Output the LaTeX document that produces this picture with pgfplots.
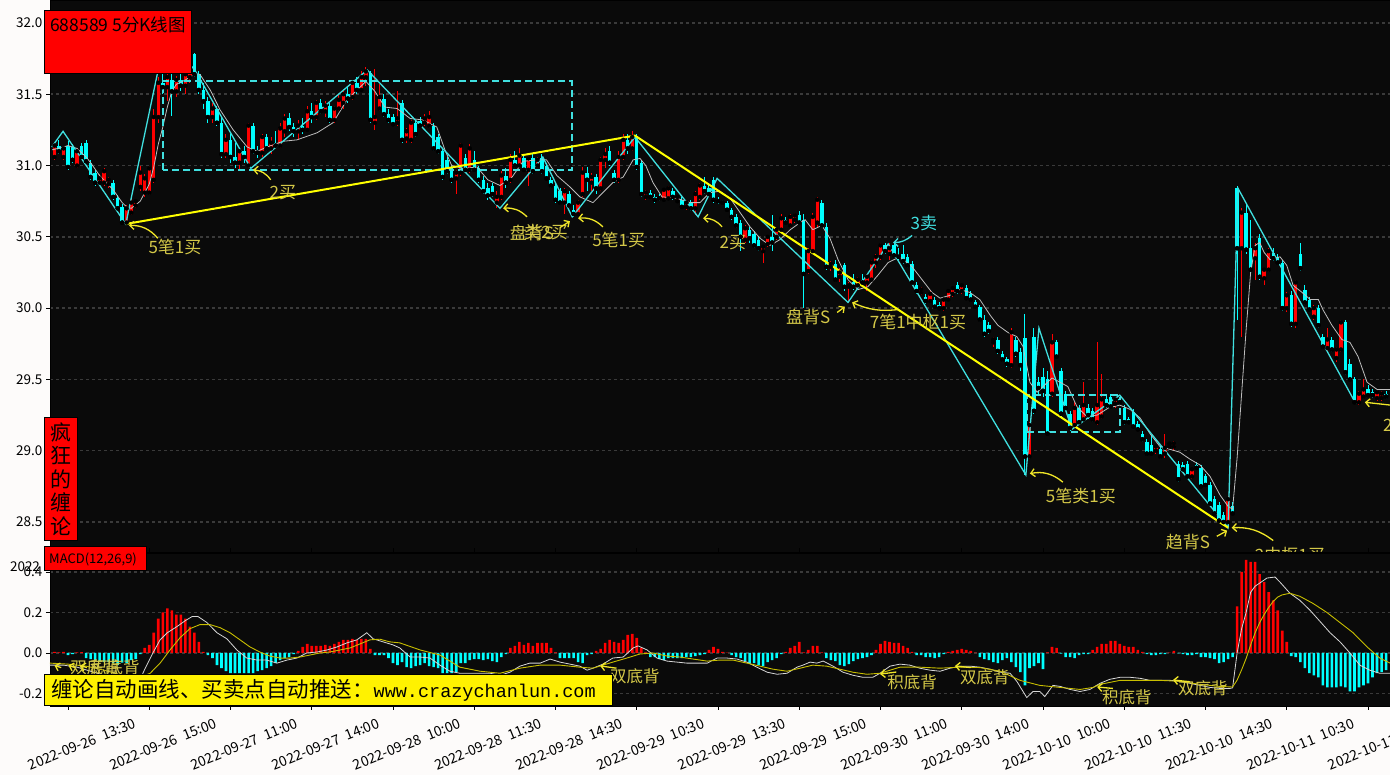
\documentclass[border=0pt]{standalone}
\usepackage{fontspec}
\setmainfont{Noto Sans CJK SC}
\newfontfamily\monof{Liberation Mono}
\usepackage{pgfplots}
\pgfplotsset{compat=1.18}
\usepackage{pgfplotstable}
\usetikzlibrary{arrows.meta}

\definecolor{bgk}{RGB}{10,10,10}
\definecolor{pagebg}{RGB}{253,251,250}
\definecolor{cred}{RGB}{255,0,0}
\definecolor{ccyan}{RGB}{0,255,255}
\definecolor{zz}{RGB}{64,224,224}
\definecolor{seg}{RGB}{255,255,0}
\definecolor{gridc}{RGB}{58,58,58}
\definecolor{mac}{RGB}{190,190,190}
\definecolor{difc}{RGB}{215,215,215}
\definecolor{deac}{RGB}{200,190,0}
\definecolor{labc}{RGB}{212,200,72}
\definecolor{arrc}{RGB}{240,230,40}

\newcommand\tickfont{\fontsize{13.5pt}{15pt}\selectfont}
\newcommand\xtickfont{\fontsize{14pt}{16pt}\selectfont}
\tikzset{
  lab/.style={text=labc, font=\fontsize{17pt}{19pt}\selectfont, inner sep=0pt},
  mlab/.style={text=labc, font=\fontsize{16.5pt}{18pt}\selectfont, inner sep=0pt},
  ann/.style={arrc, line width=1.3pt, -{Straight Barb[length=4pt,width=8pt]}},
  cann/.style={zz, line width=1.3pt, -{Straight Barb[length=4pt,width=8pt]}},
}

\pgfplotstableread{
i o h l c
-3 31.06 31.16 31.04 31.14
-2 31.14 31.18 31.08 31.10
-1 31.06 31.14 31.04 31.12
0 31.14 31.17 30.97 30.99
1 31.13 31.15 31.02 31.04
2 31.00 31.12 30.98 31.10
3 31.14 31.16 31.05 31.06
4 31.16 31.18 31.02 31.03
5 31.02 31.04 30.90 30.92
6 30.95 30.97 30.86 30.88
7 30.88 30.94 30.86 30.91
8 30.88 30.98 30.86 30.96
9 30.87 30.92 30.84 30.90
10 30.88 30.90 30.76 30.78
11 30.77 30.79 30.68 30.70
12 30.71 30.73 30.59 30.60
13 30.60 30.72 30.59 30.70
14 30.67 30.78 30.65 30.74
15 30.72 30.76 30.70 30.75
16 30.85 31.00 30.82 30.95
17 30.81 30.94 30.78 30.91
18 30.81 31.00 30.79 30.98
19 30.90 31.40 30.88 31.34
20 31.34 31.62 31.30 31.58
21 31.58 31.86 31.50 31.55
22 31.55 31.66 31.45 31.62
23 31.60 31.68 31.35 31.52
24 31.52 31.63 31.48 31.60
25 31.60 31.66 31.52 31.56
26 31.56 31.66 31.50 31.64
27 31.62 31.70 31.58 31.66
28 31.78 31.79 31.62 31.64
29 31.64 31.66 31.50 31.53
30 31.53 31.58 31.40 31.45
31 31.45 31.48 31.30 31.34
32 31.34 31.44 31.30 31.40
33 31.40 31.42 31.28 31.30
34 31.30 31.34 31.05 31.08
35 31.08 31.22 31.05 31.18
36 31.18 31.22 31.02 31.06
37 31.06 31.16 30.98 31.02
38 31.02 31.12 30.97 31.10
39 31.10 31.14 31.02 31.06
40 31.00 31.30 30.98 31.28
41 31.28 31.30 31.08 31.10
42 31.10 31.14 31.05 31.09
43 31.09 31.22 31.06 31.20
44 31.20 31.22 31.10 31.12
45 31.12 31.20 31.08 31.16
46 31.16 31.24 31.12 31.14
47 31.14 31.30 31.12 31.26
48 31.24 31.36 31.20 31.33
49 31.33 31.37 31.24 31.27
50 31.27 31.30 31.20 31.24
51 31.24 31.32 31.18 31.28
52 31.28 31.33 31.22 31.25
53 31.25 31.42 31.24 31.38
54 31.38 31.44 31.30 31.34
55 31.34 31.46 31.32 31.44
56 31.44 31.47 31.36 31.38
57 31.38 31.45 31.34 31.42
58 31.42 31.44 31.30 31.32
59 31.32 31.42 31.30 31.40
60 31.40 31.50 31.38 31.46
61 31.44 31.52 31.40 31.50
62 31.50 31.56 31.44 31.47
63 31.48 31.60 31.46 31.58
64 31.58 31.62 31.50 31.53
65 31.53 31.66 31.52 31.62
66 31.62 31.69 31.56 31.66
67 31.65 31.66 31.30 31.32
68 31.30 31.68 31.25 31.34
69 31.40 31.57 31.38 31.48
70 31.47 31.50 31.34 31.36
71 31.36 31.40 31.30 31.32
72 31.34 31.36 31.28 31.29
73 31.30 31.52 31.28 31.33
74 31.44 31.46 31.16 31.18
75 31.19 31.26 31.16 31.24
76 31.18 31.32 31.16 31.30
77 31.30 31.32 31.20 31.22
78 31.31 31.34 31.26 31.28
79 31.30 31.36 31.28 31.33
80 31.28 31.38 31.26 31.34
81 31.28 31.30 31.10 31.12
82 31.20 31.22 31.08 31.10
83 31.10 31.12 30.90 30.92
84 31.04 31.06 30.94 30.96
85 30.98 31.00 30.88 30.90
86 30.91 30.97 30.80 30.95
87 30.95 31.16 30.93 31.14
88 31.05 31.08 30.96 30.97
89 30.97 31.15 30.95 31.12
90 31.04 31.10 30.96 30.97
91 30.98 31.00 30.88 30.90
92 30.90 30.93 30.80 30.82
93 30.84 30.88 30.76 30.79
94 30.86 30.88 30.78 30.80
95 30.74 30.82 30.70 30.78
96 30.78 30.96 30.76 30.93
97 30.93 30.98 30.84 30.88
98 30.90 31.08 30.88 31.04
99 31.04 31.10 30.98 31.00
100 31.00 31.12 30.98 31.07
101 31.05 31.08 30.96 30.97
102 30.97 31.07 30.86 31.05
103 31.05 31.08 30.94 30.96
104 31.00 31.06 30.98 31.04
105 31.05 31.08 30.94 30.96
106 31.00 31.02 30.90 30.91
107 30.90 30.92 30.84 30.86
108 30.86 30.88 30.74 30.76
109 30.82 30.84 30.72 30.74
110 30.74 30.84 30.66 30.82
111 30.80 30.82 30.70 30.72
112 30.69 30.72 30.64 30.66
113 30.66 30.76 30.65 30.74
114 30.80 30.99 30.78 30.95
115 30.95 30.99 30.82 30.90
116 30.88 30.95 30.82 30.92
117 30.92 30.94 30.80 30.84
118 30.84 31.06 30.82 31.04
119 31.04 31.12 30.98 31.08
120 31.10 31.14 31.00 31.02
121 30.95 30.97 30.88 30.90
122 30.90 31.10 30.88 31.06
123 31.06 31.22 31.04 31.18
124 31.18 31.22 31.08 31.12
125 31.12 31.24 31.10 31.20
126 31.20 31.22 30.97 30.99
127 31.02 31.04 30.78 30.80
128 30.78 30.83 30.76 30.81
129 30.81 30.83 30.77 30.78
130 30.78 30.80 30.74 30.76
131 30.78 30.80 30.75 30.77
132 30.76 30.84 30.75 30.83
133 30.77 30.86 30.76 30.84
134 30.82 30.84 30.76 30.78
135 30.75 30.79 30.74 30.78
136 30.76 30.78 30.70 30.71
137 30.71 30.76 30.69 30.74
138 30.74 30.76 30.68 30.70
139 30.70 30.82 30.65 30.80
140 30.78 30.88 30.76 30.86
141 30.86 30.92 30.80 30.82
142 30.84 30.88 30.78 30.80
143 30.90 30.92 30.74 30.76
144 30.76 30.78 30.73 30.75
145 30.75 30.76 30.72 30.74
146 30.74 30.75 30.68 30.69
147 30.69 30.70 30.62 30.64
148 30.64 30.66 30.56 30.58
149 30.60 30.62 30.40 30.50
150 30.48 30.58 30.46 30.56
151 30.55 30.57 30.46 30.49
152 30.52 30.54 30.42 30.44
153 30.48 30.50 30.40 30.42
154 30.40 30.44 30.32 30.43
155 30.45 30.51 30.43 30.50
156 30.50 30.65 30.40 30.46
157 30.50 30.56 30.48 30.55
158 30.55 30.66 30.53 30.63
159 30.62 30.64 30.59 30.60
160 30.58 30.66 30.56 30.64
161 30.62 30.67 30.60 30.65
162 30.65 30.68 30.58 30.60
163 30.62 30.66 30.00 30.24
164 30.26 30.42 30.24 30.40
165 30.40 30.67 30.38 30.64
166 30.60 30.78 30.56 30.76
167 30.74 30.76 30.56 30.58
168 30.57 30.60 30.27 30.29
169 30.29 30.33 30.26 30.31
170 30.31 30.34 30.18 30.20
171 30.22 30.28 30.18 30.25
172 30.30 30.32 30.12 30.15
173 30.15 30.18 30.04 30.16
174 30.18 30.24 30.13 30.15
175 30.16 30.22 30.14 30.20
176 30.20 30.24 30.16 30.18
177 30.18 30.24 30.12 30.22
178 30.20 30.34 30.19 30.32
179 30.32 30.38 30.28 30.36
180 30.36 30.46 30.34 30.44
181 30.44 30.46 30.38 30.40
182 30.38 30.46 30.34 30.42
183 30.44 30.46 30.35 30.37
184 30.37 30.42 30.34 30.36
185 30.38 30.44 30.31 30.33
186 30.36 30.38 30.28 30.30
187 30.31 30.33 30.16 30.18
188 30.16 30.18 30.10 30.12
189 30.11 30.15 30.09 30.13
190 30.08 30.10 30.03 30.05
191 30.05 30.12 30.04 30.10
192 30.06 30.08 30.00 30.01
193 30.02 30.04 29.99 30.00
194 30.00 30.07 29.98 30.06
195 30.06 30.13 30.05 30.12
196 30.10 30.15 30.08 30.14
197 30.16 30.18 30.10 30.12
198 30.12 30.17 30.10 30.16
199 30.14 30.16 30.06 30.07
200 30.10 30.12 30.04 30.06
201 30.04 30.06 30.00 30.01
202 30.01 30.02 29.90 29.92
203 29.92 29.95 29.80 29.82
204 29.88 29.90 29.82 29.84
205 29.76 29.80 29.73 29.78
206 29.78 29.80 29.68 29.70
207 29.68 29.70 29.62 29.64
208 29.64 29.66 29.59 29.61
209 29.60 29.86 29.58 29.83
210 29.78 29.80 29.66 29.68
211 29.69 29.72 29.56 29.60
212 29.79 29.96 28.83 28.96
213 28.96 29.20 28.94 29.18
214 29.80 29.86 29.26 29.28
215 29.48 29.52 29.40 29.44
216 29.52 29.58 29.38 29.42
217 29.50 29.56 29.10 29.12
218 29.40 29.82 29.38 29.76
219 29.76 29.78 29.64 29.66
220 29.56 29.58 29.24 29.26
221 29.40 29.42 29.28 29.30
222 29.26 29.28 29.14 29.16
223 29.18 29.34 29.16 29.30
224 29.30 29.32 29.18 29.20
225 29.22 29.48 29.20 29.32
226 29.30 29.33 29.22 29.25
227 29.28 29.30 29.20 29.22
228 29.20 29.76 29.18 29.32
229 29.24 29.54 29.22 29.36
230 29.36 29.40 29.30 29.32
231 29.38 29.40 29.30 29.31
232 29.33 29.38 29.30 29.36
233 29.36 29.38 29.32 29.34
234 29.30 29.32 29.18 29.20
235 29.22 29.24 29.19 29.20
236 29.27 29.29 29.16 29.17
237 29.19 29.21 29.14 29.15
238 29.12 29.14 29.06 29.08
239 29.06 29.08 28.96 28.98
240 29.04 29.10 28.97 28.98
241 29.00 29.04 28.98 29.03
242 29.01 29.03 28.94 28.96
243 28.98 29.12 28.95 29.02
244 29.03 29.06 29.01 29.05
245 29.03 29.07 29.00 29.05
246 28.91 28.93 28.78 28.80
247 28.90 28.92 28.86 28.87
248 28.91 28.93 28.80 28.82
249 28.82 28.88 28.80 28.87
250 28.90 28.92 28.87 28.88
251 28.88 28.90 28.74 28.75
252 28.82 28.84 28.75 28.76
253 28.76 28.78 28.62 28.63
254 28.66 28.68 28.55 28.56
255 28.62 28.64 28.50 28.51
256 28.55 28.57 28.48 28.50
257 28.50 28.68 28.46 28.66
258 28.61 28.64 28.55 28.56
259 30.84 30.86 29.92 30.42
260 30.42 30.70 29.80 30.67
261 30.67 30.74 30.38 30.41
262 30.42 30.62 30.24 30.27
263 30.35 30.46 30.20 30.42
264 30.49 30.52 30.20 30.22
265 30.21 30.28 30.16 30.27
266 30.27 30.42 30.25 30.40
267 30.39 30.42 30.33 30.35
268 30.36 30.38 30.30 30.32
269 30.32 30.34 29.98 30.00
270 30.00 30.11 29.97 30.09
271 30.09 30.12 29.87 29.89
272 29.89 30.20 29.86 30.18
273 30.38 30.46 30.26 30.28
274 30.13 30.16 30.02 30.04
275 30.06 30.08 29.97 29.99
276 29.94 30.02 29.92 30.00
277 30.00 30.02 29.86 29.88
278 29.80 29.82 29.71 29.73
279 29.72 29.86 29.70 29.78
280 29.78 29.80 29.69 29.71
281 29.65 29.73 29.62 29.71
282 29.71 29.92 29.69 29.90
283 29.90 29.92 29.53 29.55
284 29.61 29.64 29.49 29.50
285 29.50 29.52 29.33 29.34
286 29.34 29.42 29.32 29.40
287 29.38 29.50 29.36 29.43
288 29.43 29.46 29.38 29.39
289 29.41 29.43 29.37 29.39
290 29.37 29.43 29.35 29.41
291 29.37 29.42 29.35 29.40
292 29.40 29.42 29.36 29.38
}\candles

\pgfplotstableread[row sep=\\]{
i v\\
-3 0.005\\ -2 0.003\\ -1 0.005\\ 0 -0.01\\ 1 -0.005\\ 2 0.003\\ 3 0.004\\ 4 -0.025\\ 5 -0.03\\ 6 -0.035\\
7 -0.04\\ 8 -0.045\\ 9 -0.045\\ 10 -0.05\\ 11 -0.06\\ 12 -0.048\\ 13 -0.05\\ 14 -0.035\\ 15 -0.03\\ 16 -0.005\\
17 0.025\\ 18 0.04\\ 19 0.10\\ 20 0.17\\ 21 0.20\\ 22 0.22\\ 23 0.21\\ 24 0.19\\ 25 0.19\\ 26 0.17\\
27 0.13\\ 28 0.10\\ 29 0.055\\ 30 0.005\\ 31 -0.01\\ 32 -0.025\\ 33 -0.06\\ 34 -0.075\\ 35 -0.09\\ 36 -0.10\\
37 -0.10\\ 38 -0.10\\ 39 -0.10\\ 40 -0.10\\ 41 -0.10\\ 42 -0.09\\ 43 -0.085\\ 44 -0.075\\ 45 -0.065\\ 46 -0.05\\
47 -0.035\\ 48 -0.025\\ 49 -0.02\\ 50 -0.005\\ 51 0.01\\ 52 0.03\\ 53 0.045\\ 54 0.035\\ 55 0.035\\ 56 0.035\\
57 0.04\\ 58 0.035\\ 59 0.045\\ 60 0.055\\ 61 0.065\\ 62 0.065\\ 63 0.07\\ 64 0.065\\ 65 0.07\\ 66 0.07\\
67 0.02\\ 68 -0.01\\ 69 -0.01\\ 70 -0.01\\ 71 -0.025\\ 72 -0.05\\ 73 -0.06\\ 74 -0.045\\ 75 -0.07\\ 76 -0.075\\
77 -0.065\\ 78 -0.06\\ 79 -0.05\\ 80 -0.065\\ 81 -0.07\\ 82 -0.075\\ 83 -0.10\\ 84 -0.10\\ 85 -0.10\\ 86 -0.095\\
87 -0.05\\ 88 -0.05\\ 89 -0.035\\ 90 -0.03\\ 91 -0.03\\ 92 -0.035\\ 93 -0.03\\ 94 -0.04\\ 95 -0.045\\ 96 -0.02\\
97 -0.005\\ 98 0.025\\ 99 0.035\\ 100 0.055\\ 101 0.04\\ 102 0.05\\ 103 0.035\\ 104 0.05\\ 105 0.05\\ 106 0.05\\
107 0.025\\ 108 0.003\\ 109 -0.025\\ 110 -0.025\\ 111 -0.025\\ 112 -0.025\\ 113 -0.045\\ 114 -0.05\\ 115 -0.01\\ 116 -0.005\\
117 0.01\\ 118 0.02\\ 119 0.05\\ 120 0.065\\ 121 0.055\\ 122 0.05\\ 123 0.065\\ 124 0.09\\ 125 0.095\\ 126 0.075\\
127 0.025\\ 128 0.003\\ 129 -0.02\\ 130 -0.02\\ 131 -0.03\\ 132 -0.035\\ 133 -0.025\\ 134 -0.025\\ 135 -0.025\\ 136 -0.025\\
137 -0.02\\ 138 -0.02\\ 139 -0.015\\ 140 -0.01\\ 141 -0.005\\ 142 0.015\\ 143 0.03\\ 144 0.02\\ 145 0.005\\ 146 0.002\\
147 -0.01\\ 148 -0.02\\ 149 -0.025\\ 150 -0.04\\ 151 -0.05\\ 152 -0.05\\ 153 -0.06\\ 154 -0.065\\ 155 -0.045\\ 156 -0.035\\
157 -0.025\\ 158 -0.005\\ 159 0.005\\ 160 0.025\\ 161 0.035\\ 162 0.055\\ 163 0.003\\ 164 0.015\\ 165 0.035\\ 166 0.035\\
167 0.003\\ 168 -0.025\\ 169 -0.035\\ 170 -0.04\\ 171 -0.06\\ 172 -0.065\\ 173 -0.055\\ 174 -0.04\\ 175 -0.03\\ 176 -0.025\\
177 -0.02\\ 178 -0.01\\ 179 0.015\\ 180 0.045\\ 181 0.06\\ 182 0.055\\ 183 0.05\\ 184 0.05\\ 185 0.035\\ 186 0.025\\
187 0.005\\ 188 -0.01\\ 189 -0.01\\ 190 -0.02\\ 191 -0.02\\ 192 -0.025\\ 193 -0.02\\ 194 -0.005\\ 195 0.005\\ 196 0.01\\
197 0.015\\ 198 0.02\\ 199 0.015\\ 200 0.01\\ 201 0.002\\ 202 -0.02\\ 203 -0.03\\ 204 -0.035\\ 205 -0.045\\ 206 -0.05\\
207 -0.035\\ 208 -0.025\\ 209 -0.045\\ 210 -0.07\\ 211 -0.095\\ 212 -0.16\\ 213 -0.075\\ 214 -0.065\\ 215 -0.05\\ 216 -0.08\\
217 0.003\\ 218 0.03\\ 219 0.025\\ 220 -0.003\\ 221 -0.02\\ 222 -0.02\\ 223 -0.025\\ 224 -0.01\\ 225 -0.005\\ 226 -0.005\\
227 0.015\\ 228 0.03\\ 229 0.045\\ 230 0.045\\ 231 0.06\\ 232 0.06\\ 233 0.045\\ 234 0.035\\ 235 0.03\\ 236 0.03\\
237 0.015\\ 238 0.005\\ 239 -0.005\\ 240 -0.01\\ 241 -0.01\\ 242 -0.005\\ 243 -0.005\\ 244 0.002\\ 245 0.01\\ 246 -0.002\\
247 -0.005\\ 248 -0.01\\ 249 -0.01\\ 250 -0.005\\ 251 -0.02\\ 252 -0.02\\ 253 -0.025\\ 254 -0.03\\ 255 -0.05\\ 256 -0.045\\
257 -0.03\\ 258 -0.02\\ 259 0.23\\ 260 0.40\\ 261 0.46\\ 262 0.45\\ 263 0.45\\ 264 0.39\\ 265 0.35\\ 266 0.30\\
267 0.26\\ 268 0.21\\ 269 0.11\\ 270 0.055\\ 271 -0.015\\ 272 -0.02\\ 273 -0.045\\ 274 -0.075\\ 275 -0.10\\ 276 -0.11\\
277 -0.12\\ 278 -0.16\\ 279 -0.17\\ 280 -0.17\\ 281 -0.17\\ 282 -0.165\\ 283 -0.17\\ 284 -0.19\\ 285 -0.19\\ 286 -0.17\\
287 -0.16\\ 288 -0.15\\ 289 -0.12\\ 290 -0.10\\ 291 -0.095\\ 292 -0.085\\
}\macdh

\begin{document}
\begin{tikzpicture}
\useasboundingbox (0,0) rectangle (1390pt,775pt);
\fill[pagebg] (0,0) rectangle (1390pt,775pt);

% ================= price panel =================
\begin{axis}[
  at={(50pt,223pt)}, anchor=south west,
  width=1340pt, height=552pt, scale only axis,
  xmin=-3.99, xmax=292.87, ymin=28.290, ymax=32.161,
  axis background/.style={fill=bgk},
  axis line style={draw=black, line width=0.8pt},
  xtick={0,18,...,288}, xticklabels={}, xtick pos=bottom, xtick align=inside,
  ytick={28.5,29,29.5,30,30.5,31,31.5,32}, ytick pos=left, ytick align=outside,
  major tick length=4pt, tick style={black, line width=0.8pt},
  ymajorgrids, grid style={gridc, dash pattern=on 3pt off 3pt, line width=1.5pt},
  yticklabel style={font=\tickfont, text=black,
    /pgf/number format/fixed, /pgf/number format/fixed zerofill,
    /pgf/number format/precision=1, /pgf/number format/assume math mode=true},
]
% red candles
\addplot[forget plot, only marks, mark=none,
  restrict expr to domain={\thisrow{c}-\thisrow{o}}{0:10},
  error bars/.cd, y dir=both, y explicit, error mark=none,
  error bar style={draw=cred, line width=1pt}]
  table[x=i, y=c, y error plus expr={\thisrow{h}-\thisrow{c}}, y error minus expr={\thisrow{c}-\thisrow{l}}]{\candles};
\addplot[forget plot, only marks, mark=none,
  restrict expr to domain={\thisrow{c}-\thisrow{o}}{0:10},
  error bars/.cd, y dir=plus, y explicit, error mark=none,
  error bar style={draw=cred, line width=3.4pt}]
  table[x=i, y=o, y error plus expr={\thisrow{c}-\thisrow{o}}]{\candles};
% cyan candles
\addplot[forget plot, only marks, mark=none,
  restrict expr to domain={\thisrow{c}-\thisrow{o}}{-10:-0.0001},
  error bars/.cd, y dir=both, y explicit, error mark=none,
  error bar style={draw=ccyan, line width=1pt}]
  table[x=i, y=c, y error plus expr={\thisrow{h}-\thisrow{c}}, y error minus expr={\thisrow{c}-\thisrow{l}}]{\candles};
\addplot[forget plot, only marks, mark=none,
  restrict expr to domain={\thisrow{c}-\thisrow{o}}{-10:-0.0001},
  error bars/.cd, y dir=plus, y explicit, error mark=none,
  error bar style={draw=ccyan, line width=3.4pt}]
  table[x=i, y=c, y error plus expr={\thisrow{o}-\thisrow{c}}]{\candles};
% moving average
\addplot[forget plot, mac, line width=0.8pt] coordinates {
(-3.5,31.11) (-1,31.13) (0,31.14) (2,31.12) (4,31.06) (5,31.02) (7,30.93) (10,30.83) (12,30.74) (13,30.71)
(14,30.70) (16,30.75) (17,30.81) (18,30.87) (19,30.99) (20,31.15) (21,31.27) (22,31.41) (23,31.52) (24,31.57)
(26,31.60) (28,31.64) (29.2,31.64) (31.5,31.53) (33.7,31.39) (36.6,31.25) (39.7,31.13) (41.9,31.10) (44.1,31.13)
(47.6,31.17) (50.7,31.18) (55.2,31.23) (58.7,31.30) (61.8,31.46) (64.7,31.55) (66,31.59) (68,31.52) (70.2,31.41)
(72.9,31.40) (75.8,31.33) (78.6,31.32) (81.7,31.27) (83.5,31.11) (85,31.00) (87.5,30.98) (90.6,30.99) (93,30.90)
(95.7,30.86) (98.4,30.92) (100.8,31.03) (103.9,31.04) (106,31.04) (108.3,30.93) (111.2,30.85) (113.4,30.78)
(116.3,30.74) (118.5,30.81) (120.7,30.88) (123,30.92) (125.2,31.04) (126.7,31.05) (128,31.00) (129.6,30.88)
(131.6,30.78) (134.9,30.77) (137.8,30.74) (140,30.74) (142.2,30.81) (144.4,30.82) (146.7,30.77) (148.9,30.67)
(151.1,30.57) (153.3,30.49) (155.5,30.44) (157.7,30.48) (160,30.55) (162.2,30.60) (163.3,30.62) (165,30.55)
(167,30.58) (168.8,30.49) (170.6,30.34) (172.8,30.20) (175,30.13) (177.2,30.15) (179.4,30.23) (181.7,30.32)
(184.3,30.36) (187,30.29) (189.2,30.20) (191.4,30.11) (193.2,30.07) (195.4,30.09) (197.6,30.13) (199.8,30.11)
(202,30.06) (204.3,29.95) (206,29.88) (208.2,29.83) (210.2,29.80) (211.6,29.73) (213.1,29.48) (214.7,29.41)
(216,29.45) (218,29.51) (219.8,29.48) (221.5,29.45) (223.5,29.31) (225.7,29.24) (228,29.25) (230.5,29.30)
(233,29.32) (235.3,29.29) (237.5,29.23) (239.7,29.12) (241.9,29.03) (244.1,29.01) (246.3,28.99) (248.6,28.94)
(250.8,28.90) (253,28.82) (255.2,28.69) (257,28.61) (258,28.59) (259,28.95) (260,29.40) (261,29.85) (262,30.25)
(263,30.44) (264,30.46) (265,30.39) (266.3,30.34) (268.5,30.36) (270,30.30) (271.4,30.16) (273.4,30.11)
(275.2,30.06) (277,30.06) (278,29.99) (280,29.88) (282.2,29.78) (284,29.76) (285.8,29.66) (287.8,29.48)
(290,29.43) (292.9,29.43)};
% pivots (bi)
\addplot[forget plot, zz, line width=1.3pt] coordinates {
(-3.6,31.13) (-1.1,31.24) (12.8,30.59) (21.5,31.90) (28.1,31.67) (40.5,30.98) (66.3,31.67) (95.7,30.70)
(105.2,31.06) (111.7,30.64) (125.6,31.20) (139.6,30.64) (143.8,30.91) (172.8,30.04) (181.7,30.45)
(212.2,28.83) (215.1,29.86) (222.4,29.15) (233,29.39) (257,28.46) (259.2,30.84) (285.3,29.33)};
% central boxes
\addplot[forget plot, zz, line width=2pt, dash pattern=on 7pt off 4pt] coordinates {
(21,30.97) (21,31.59) (111.6,31.59) (111.6,30.97) (21,30.97)};
\addplot[forget plot, zz, line width=2pt, dash pattern=on 7pt off 4pt] coordinates {
(212.4,29.13) (212.4,29.39) (233,29.39) (233,29.13) (212.4,29.13)};
% segments
\addplot[forget plot, seg, line width=2pt] coordinates {(12.8,30.59) (125.6,31.21) (257,28.46)};

% annotations
\node[lab] at (axis cs:23.7,30.43) {5笔1买};
\draw[ann] (axis cs:19.9,30.49) to[bend right=25] (axis cs:13.5,30.58);
\node[lab] at (axis cs:47.6,30.81) {2买};
\draw[ann] (axis cs:44.9,30.90) to[bend right=25] (axis cs:41,30.97);
\node[lab] at (axis cs:102.8,30.53) {盘背S};
\node[lab] at (axis cs:105.9,30.53) {类2买};
\draw[ann] (axis cs:101.7,30.64) to[bend right=25] (axis cs:96.4,30.70);
\draw[ann] (axis cs:109,30.565) -- (axis cs:111.2,30.61);
\node[lab] at (axis cs:122,30.48) {5笔1买};
\draw[ann] (axis cs:118.5,30.57) to[bend right=25] (axis cs:113,30.63);
\node[lab] at (axis cs:147.3,30.46) {2买};
\draw[ann] (axis cs:144.9,30.57) to[bend right=25] (axis cs:140.7,30.63);
\node[lab, text=zz] at (axis cs:189.6,30.60) {3卖};
\draw[cann] (axis cs:187,30.51) to[bend left=20] (axis cs:182.8,30.46);
\node[lab] at (axis cs:164,29.94) {盘背S};
\draw[ann] (axis cs:170.4,29.97) -- (axis cs:172.1,30.01);
\node[lab] at (axis cs:188.3,29.90) {7笔1中枢1买};
\draw[ann] (axis cs:183.9,29.99) to[bend left=15] (axis cs:173.7,30.04);
\node[lab] at (axis cs:224.4,28.68) {5笔类1买};
\draw[ann] (axis cs:220.4,28.78) to[bend right=25] (axis cs:213.1,28.84);
\node[lab] at (axis cs:248.1,28.36) {趋背S};
\draw[ann] (axis cs:254.5,28.40) -- (axis cs:256.8,28.44);
\node[lab] at (axis cs:270.7,28.27) {2中枢1买};
\draw[ann] (axis cs:267,28.37) to[bend right=20] (axis cs:257.8,28.46);
\node[lab, anchor=west] at (axis cs:291.3,29.18) {2买};
\draw[ann] (axis cs:293,29.32) -- (axis cs:287.3,29.34);
\end{axis}

% ================= MACD panel =================
\begin{axis}[
  at={(50pt,69pt)}, anchor=south west,
  width=1340pt, height=153pt, scale only axis,
  xmin=-3.99, xmax=292.87, ymin=-0.2617, ymax=0.4938,
  axis background/.style={fill=bgk},
  axis line style={draw=black, line width=0.8pt},
  xtick={0,18,...,288}, xtick pos=bottom, xtick align=outside,
  xticklabels={{2022-09-26\enspace 13:30},{2022-09-26\enspace 15:00},{2022-09-27\enspace 11:00},{2022-09-27\enspace 14:00},
    {2022-09-28\enspace 10:00},{2022-09-28\enspace 11:30},{2022-09-28\enspace 14:30},{2022-09-29\enspace 10:30},
    {2022-09-29\enspace 13:30},{2022-09-29\enspace 15:00},{2022-09-30\enspace 11:00},{2022-09-30\enspace 14:00},
    {2022-10-10\enspace 10:00},{2022-10-10\enspace 11:30},{2022-10-10\enspace 14:30},{2022-10-11\enspace 10:30},
    {2022-10-11\enspace 13:30}},
  xticklabel style={font=\xtickfont, text=black, rotate=22, anchor=center, yshift=-37pt},
  ytick={-0.2,0,0.2,0.4}, ytick pos=left, ytick align=outside,
  major tick length=4pt, tick style={black, line width=0.8pt},
  ymajorgrids, grid style={gridc, dash pattern=on 3pt off 3pt, line width=1.5pt},
  yticklabel style={font=\tickfont, text=black,
    /pgf/number format/fixed, /pgf/number format/fixed zerofill,
    /pgf/number format/precision=1, /pgf/number format/assume math mode=true},
]
\addplot[forget plot, ybar, bar width=2.6pt, bar shift=0pt, fill=cred, draw=none,
  restrict y to domain=0:1] table[x=i, y=v]{\macdh};
\addplot[forget plot, ybar, bar width=2.6pt, bar shift=0pt, fill=ccyan, draw=none,
  restrict y to domain=-1:0] table[x=i, y=v]{\macdh};
% DIF
\addplot[forget plot, difc, line width=0.8pt] coordinates {
(-4,-0.06) (-1,-0.06) (2,-0.07) (5,-0.09) (8,-0.11) (11,-0.14) (13,-0.155) (15,-0.15) (16,-0.13) (17,-0.08)
(18.8,0.0) (20.4,0.065) (22,0.10) (24.1,0.13) (26,0.16) (27.5,0.18) (28.8,0.18) (30.8,0.15) (33,0.10) (35.2,0.07)
(37.4,0.015) (39.6,-0.025) (41.9,-0.035) (44,-0.035) (46.3,-0.05) (48.5,-0.035) (50.7,-0.025) (52.9,0) (55.2,0.005)
(57.4,0.015) (59.6,0.03) (61.8,0.05) (64,0.065) (66.2,0.10) (67.6,0.07) (69.8,0.055) (72,0.04) (73.5,0.025)
(75.8,-0.02) (78,-0.02) (80.2,-0.025) (82.4,-0.06) (84.6,-0.09) (86.8,-0.10) (89,-0.10) (91.3,-0.10) (93.5,-0.10)
(95.7,-0.11) (97.9,-0.095) (100.1,-0.065) (102.3,-0.05) (104.6,-0.05) (106.8,-0.03) (109,-0.045) (111.2,-0.055)
(113.4,-0.065) (115,-0.085) (116.3,-0.075) (118.5,-0.055) (120.7,-0.025) (123,-0.02) (125.2,0.025) (126.3,0.035)
(128.3,0.015) (130.5,-0.025) (132.7,-0.04) (134.9,-0.045) (137.1,-0.05) (139.3,-0.05) (141.6,-0.05) (143.8,-0.025)
(146,-0.025) (148.2,-0.03) (150.4,-0.045) (152.6,-0.07) (154.9,-0.095) (157.1,-0.105) (159.3,-0.10) (161.5,-0.07)
(162.8,-0.06) (164.4,-0.045) (165.9,-0.05) (167.3,-0.04) (169.5,-0.065) (171.7,-0.095) (173.9,-0.11) (176.1,-0.12)
(178.3,-0.12) (179.9,-0.10) (182.1,-0.065) (184.3,-0.055) (186.5,-0.06) (188.7,-0.075) (191,-0.085) (193.2,-0.09)
(195.4,-0.075) (197.6,-0.065) (199.8,-0.065) (202,-0.07) (204.3,-0.08) (206.5,-0.095) (208.7,-0.10) (210.2,-0.14)
(212.4,-0.22) (213.8,-0.19) (215.3,-0.19) (216.4,-0.215) (218.2,-0.16) (219.8,-0.165) (222,-0.18) (224.2,-0.19)
(226.4,-0.18) (228.6,-0.15) (230.8,-0.13) (233.1,-0.12) (235.3,-0.12) (237.5,-0.125) (239.7,-0.135) (241.9,-0.135)
(244.1,-0.135) (246.3,-0.14) (248.6,-0.15) (250.8,-0.16) (253,-0.17) (255.2,-0.175) (257.4,-0.175) (258,-0.172)
(259,0.0) (260,0.12) (261,0.20) (262,0.30) (263,0.33) (264,0.345) (265.6,0.37) (267.4,0.375) (268.5,0.35)
(270.7,0.295) (272.9,0.26) (275.2,0.21) (277.4,0.155) (279.6,0.10) (281.8,0.055) (284,0.0) (286.2,-0.06)
(288.4,-0.085) (290.6,-0.10) (292.9,-0.10)};
% DEA
\addplot[forget plot, deac, line width=0.9pt] coordinates {
(-4,-0.05) (0,-0.055) (4,-0.065) (8,-0.085) (12,-0.11) (16,-0.12) (18.2,-0.10) (20.4,-0.05) (22.6,0.015)
(24.8,0.075) (27,0.12) (29.2,0.14) (31.5,0.14) (33.7,0.125) (35.9,0.10) (38.1,0.065) (40.3,0.03) (42.5,0.005)
(44.7,-0.015) (47,-0.025) (49.2,-0.025) (51.4,-0.02) (53.6,-0.01) (55.8,0) (58,0.005) (60.3,0.015) (62.5,0.025)
(64.7,0.045) (66.9,0.065) (69.1,0.068) (71.3,0.055) (73.5,0.05) (78,0.015) (82.4,-0.01) (86.8,-0.07) (91.3,-0.09)
(95.7,-0.10) (100.1,-0.075) (104.6,-0.06) (109,-0.06) (113.4,-0.07) (116.3,-0.075) (120.7,-0.045) (123.8,-0.025)
(126.7,-0.005) (129.6,0) (132.7,-0.015) (135.6,-0.02) (138.5,-0.03) (141.6,-0.04) (144.4,-0.035) (147.3,-0.035)
(150.4,-0.05) (153.3,-0.065) (156.2,-0.08) (159.3,-0.09) (162.2,-0.075) (165,-0.06) (168.1,-0.065) (171,-0.08)
(173.9,-0.095) (177,-0.105) (179.9,-0.10) (184.3,-0.07) (188.7,-0.07) (193.2,-0.075) (197.6,-0.07) (202,-0.072)
(206.5,-0.09) (210.9,-0.135) (215.3,-0.16) (219.8,-0.17) (224.2,-0.18) (227.1,-0.17) (228.6,-0.155) (233.1,-0.135)
(237.5,-0.135) (241.9,-0.135) (246.3,-0.14) (250.8,-0.155) (255.2,-0.165) (258,-0.168) (259,-0.134) (260,-0.083)
(261,-0.027) (262,0.04) (263,0.10) (264,0.15) (265,0.19) (266,0.225) (267,0.255) (268,0.276) (269,0.287)
(270.7,0.295) (272.9,0.28) (275.8,0.245) (278.9,0.20) (281.8,0.15) (284.7,0.10) (287.8,0.03) (290.6,-0.025)
(292.9,-0.05)};
% MACD annotations
\node[mlab] at (axis cs:6,-0.069) {双底背};
\node[mlab] at (axis cs:10.4,-0.069) {积底背};
\draw[ann] (axis cs:-1.5,-0.072) -- (axis cs:-3,-0.062);
\draw[ann] (axis cs:1.6,-0.072) -- (axis cs:0.1,-0.062);
\draw[ann] (axis cs:4.2,-0.072) -- (axis cs:2.7,-0.062);
\node[mlab] at (axis cs:125.6,-0.114) {双底背};
\draw[ann] (axis cs:121.5,-0.075) -- (axis cs:117.9,-0.064);
\node[mlab] at (axis cs:187,-0.143) {积底背};
\draw[ann] (axis cs:183.5,-0.094) -- (axis cs:179.9,-0.104);
\node[mlab] at (axis cs:203.1,-0.119) {双底背};
\draw[ann] (axis cs:200,-0.072) -- (axis cs:196.5,-0.064);
\node[mlab] at (axis cs:234.6,-0.217) {积底背};
\draw[ann] (axis cs:231.5,-0.175) -- (axis cs:228,-0.168);
\node[mlab] at (axis cs:251.4,-0.173) {双底背};
\draw[ann] (axis cs:248.5,-0.142) -- (axis cs:244.8,-0.133);
\end{axis}

% ================= overlay boxes =================
\draw[fill=cred, draw=black, line width=1pt] (44pt,701pt) rectangle (191pt,764pt);
\node[anchor=west, inner sep=0pt, font=\fontsize{17.5pt}{19pt}\selectfont] at (50pt,750pt) {688589 5分K线图};
\draw[fill=cred, draw=black, line width=1pt] (44pt,234pt) rectangle (77pt,357pt);
\node[align=center, inner sep=0pt, font=\fontsize{21pt}{23.5pt}\selectfont] at (60.5pt,296pt) {疯\\狂\\的\\缠\\论};
\draw[fill=cred, draw=black, line width=1pt] (44pt,204pt) rectangle (146pt,228pt);
\node[anchor=west, inner sep=0pt, font=\fontsize{13pt}{14pt}\selectfont] at (49pt,216pt) {MACD(12,26,9)};
\draw[fill=yellow, draw=black, line width=1pt] (44pt,69pt) rectangle (612pt,100pt);
\node[anchor=west, inner sep=0pt] at (51pt,84.5pt) {{\fontsize{21.5pt}{23pt}\selectfont 缠论自动画线、买卖点自动推送：}{\monof\fontsize{18.5pt}{20pt}\selectfont www.crazychanlun.com}};
\node[font=\tickfont, inner sep=0pt] at (25pt,208pt) {2022};
\end{tikzpicture}
\end{document}
